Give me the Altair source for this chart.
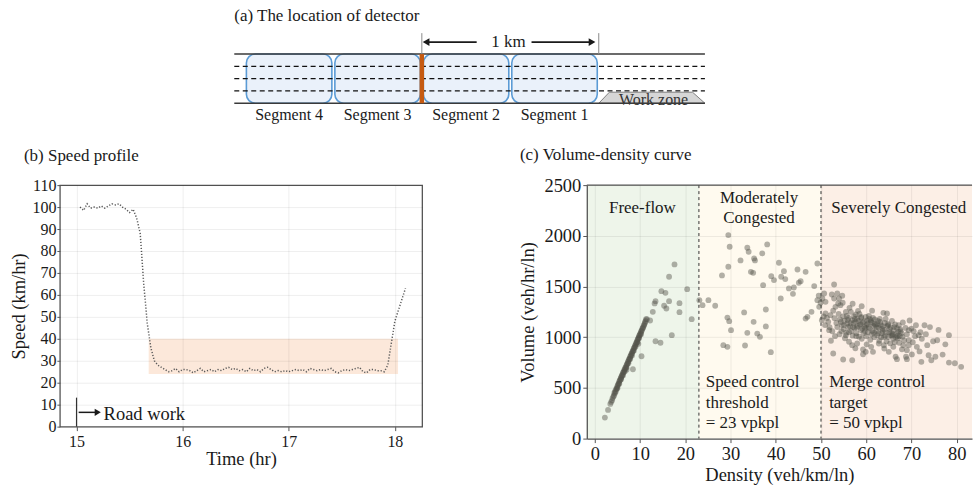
import altair as alt
import pandas as pd

SERIF = "Liberation Serif"
INK = "#1a1a1a"
FRAME = "#555555"

# ---------------- (a) detector layout: km from the detector, lanes counted from the bottom edge
seg_names = ["Segment 4", "Segment 3", "Segment 2", "Segment 1"]
seg_start_km = [-1.0, -0.5, 0.0, 0.5]
seg_end_km = [-0.5, 0.0, 0.5, 1.0]
road_from_km, road_to_km = -1.06, 1.6
lane_edges = [0, 4]
lane_marks = [1, 2, 3]
detector_km = 0.0
span_km = [0.0, 1.0]
wz_km = [1.0, 1.06, 1.53, 1.6]
wz_top = [0.0, 0.9, 0.9, 0.0]

# ---------------- (b) speed profile
time_hr = [15 + 2 * m / 60 for m in range(1, 94)]  # 2-minute detector intervals
speed_kmh = [
    100, 98.5, 101.5, 99.5, 100, 99.5, 100.5, 99.5, 100.5, 101.5, 101, 101.5, 100, 99, 97.5, 99,
    95, 88, 65, 47, 36, 30, 28, 27, 26, 25,
    25.5, 26.5, 25, 26, 26, 25.5, 24.5, 25.5, 26.5, 25, 25.5, 26, 25, 26, 25.5, 26.5, 27, 26,
    26.5, 25.5, 26, 25, 26.5, 25.5, 26, 25, 26.5, 27, 26, 25, 25.5, 25, 25.5, 25, 25.5, 26,
    25.5, 26, 25, 26.5, 26, 25.5, 26, 25.5, 26, 26.5, 25, 24.5, 25.5, 26, 25.5, 26, 26.5, 27,
    25, 24.5, 26, 26, 25.5, 25.5, 25,
    28, 38, 48, 53, 58, 63,
]
band_time = [15.68, 18.03]
band_speed = [24, 40]
roadwork_hr = 15.0

# ---------------- (c) volume-density points (density veh/km/ln, volume veh/hr/ln)
ff_density = [
    2.2, 2.9, 3.4, 3.6, 3.8, 3.9, 4.1, 4.2, 4.3, 4.4, 4.5, 4.6, 4.7, 4.8, 4.9, 5.0, 5.0, 5.1,
    5.2, 5.3, 5.4, 5.4, 5.5, 5.6, 5.7, 5.8, 5.8, 5.9, 6.0, 6.1, 6.2, 6.2, 6.3, 6.4, 6.5, 6.6,
    6.6, 6.7, 6.8, 6.9, 7.0, 7.0, 7.1, 7.2, 7.3, 7.4, 7.4, 7.5, 7.6, 7.7, 7.8, 7.8, 7.9, 8.0,
    8.1, 8.2, 8.2, 8.3, 8.4, 8.5, 8.6, 8.6, 8.7, 8.8, 8.9, 9.0, 9.0, 9.1, 9.2, 9.3, 9.4, 9.4,
    9.5, 9.6, 9.7, 9.8, 9.8, 9.9, 10.0, 10.1, 10.2, 10.2, 10.3, 10.4, 10.5, 10.6, 10.7, 10.8,
    10.9, 11.0, 11.1, 11.2, 11.3, 9.6, 7.0,
    17.6, 16.4, 14.7, 15.6, 20.4, 13.4, 13.2, 16.4, 15.3, 15.8, 18.7, 18.7, 12.8, 21.4, 11.5,
    17.0, 13.4, 14.5, 10.3, 8.4, 12.2,
]
ff_volume = [
    207, 283, 342, 362, 378, 400, 415, 425, 452, 445, 470, 462, 490, 488, 505, 520, 498, 530,
    540, 548, 565, 542, 575, 580, 596, 600, 585, 615, 625, 630, 648, 622, 655, 660, 678, 680,
    662, 695, 705, 708, 725, 700, 735, 740, 758, 760, 742, 775, 785, 790, 808, 785, 815, 825,
    838, 842, 820, 858, 865, 872, 890, 866, 895, 905, 920, 925, 905, 940, 948, 955, 972, 950,
    980, 990, 1000, 1015, 992, 1020, 1032, 1040, 1055, 1030, 1062, 1070, 1085, 1092, 1100, 1115,
    1122, 1135, 1148, 1160, 1178, 935, 680,
    1718, 1596, 1454, 1438, 1474, 1355, 1333, 1355, 1310, 1283, 1336, 1247, 1250, 1178, 1178,
    1020, 960, 945, 812, 684, 1165,
]
mc_density = [
    29.5, 29.8, 33.7, 34.0, 38.1, 37.0, 32.2, 35.2, 35.4, 29.5, 34.5, 35.0, 40.7, 28.1, 39.0,
    39.6, 41.8, 41.2, 42.1, 44.8, 46.6, 49.2, 37.2, 42.9, 43.8, 44.0, 45.5, 45.1, 48.5, 23.1,
    23.8, 25.1, 26.6, 41.1, 49.2, 49.6, 33.0, 37.8, 29.3, 29.7, 30.1, 35.1, 46.6, 47.0, 47.9,
    33.7, 35.9, 36.5, 37.8, 28.4, 29.3, 33.2, 38.9, 49.5, 49.9,
]
mc_volume = [
    2007, 1892, 1882, 1843, 1915, 1826, 1757, 1777, 1757, 1695, 1645, 1635, 1734, 1609, 1602,
    1563, 1651, 1596, 1573, 1668, 1645, 1727, 1513, 1481, 1428, 1490, 1553, 1537, 1504, 1365,
    1316, 1365, 1310, 1382, 1365, 1300, 1244, 1273, 1194, 1158, 1069, 1152, 1184, 1201, 1250,
    1043, 1036, 1004, 1106, 921, 905, 918, 852, 1410, 1340,
]
sc_density = [
    50.3, 50.7, 51.0, 52.4, 52.9, 52.9, 53.6, 54.7, 54.0, 53.8, 53.2, 54.3, 50.2, 51.0, 52.1,
    51.6, 50.6, 51.3, 52.7, 50.9, 51.9, 52.5, 51.8, 53.0, 53.4, 53.9, 54.2, 54.6, 54.9, 55.5,
    56.6, 57.7, 55.2, 55.8, 56.1, 56.4, 56.9, 57.2, 57.5, 57.9, 58.3, 58.6, 58.9, 59.2, 59.6,
    59.9, 60.6, 61.0, 60.3, 60.8, 61.3, 61.6, 61.9, 62.2, 62.5, 62.8, 63.1, 63.4, 63.7, 64.0,
    64.6, 64.3, 64.8, 65.1, 65.4, 65.8, 66.1, 66.4, 66.7, 67.0, 67.2, 67.6, 68.0, 68.4, 68.7,
    69.0, 69.4, 70.0, 70.5, 71.0, 71.6, 72.9, 72.3, 73.5, 73.8, 75.3, 76.9, 72.2, 74.4, 75.7,
    78.3, 78.3, 79.6, 81.0, 52.7, 54.9, 59.3, 59.3, 61.5, 65.0, 66.5, 66.8, 68.8, 69.0, 69.4,
    69.4, 69.0, 62.8, 63.9, 56.9, 58.0, 55.5, 56.2, 56.9, 59.9,
    55.0, 55.6, 56.0, 56.7, 57.0, 57.4, 57.8, 58.1, 58.4, 58.8, 59.0, 59.4, 59.8, 60.0, 60.4,
    60.9, 61.2, 61.8, 62.0, 62.4, 62.9, 63.3, 63.6, 64.2, 64.5, 64.9, 65.3, 65.6, 66.0, 66.3,
    66.9, 67.3, 67.8, 68.2, 57.3, 58.5, 60.2, 61.5, 63.0, 65.7, 67.5, 54.5, 55.3, 53.6, 54.1,
    53.1, 52.2, 60.1, 61.1, 57.6, 64.0, 66.0, 67.9, 70.3, 71.2, 70.8, 72.0, 74.1, 76.0, 73.2,
    74.8, 77.5, 70.1, 71.8, 68.1, 69.6, 58.2, 61.3, 63.8, 56.3, 59.0, 54.8, 57.0,
    54.4, 55.1, 55.9, 56.5, 57.1, 57.6, 58.0, 58.7, 59.1, 59.5, 60.0, 60.5, 61.0, 61.4, 61.9,
    62.3, 62.7, 63.2, 63.5, 64.1, 64.4, 64.7, 65.2, 65.5, 66.2, 66.6, 67.1, 67.4, 56.2, 57.8,
    59.7, 61.7, 63.9, 65.9, 55.7, 58.9, 60.7, 62.6, 64.9, 66.8,
]
sc_volume = [
    1382, 1431, 1349, 1421, 1520, 1382, 1431, 1409, 1382, 1333, 1300, 1316, 1168, 1234, 1217,
    1152, 1205, 1190, 1262, 1120, 1098, 1059, 1069, 1188, 1140, 1230, 1175, 1120, 1205, 1250,
    1250, 1224, 1162, 1135, 1190, 1108, 1168, 1138, 1180, 1095, 1160, 1122, 1190, 1145, 1102,
    1201, 1211, 1168, 1130, 1085, 1140, 1110, 1175, 1062, 1128, 1095, 1150, 1040, 1108, 1075,
    1234, 1180, 1130, 1050, 1098, 1015, 1070, 1125, 1035, 990, 1118, 1060, 1005, 968, 1092,
    1030, 1069, 1085, 1059, 1118, 1020, 1118, 985, 921, 822, 807, 829, 757, 773, 970,
    1020, 750, 743, 708, 839, 780, 879, 832, 856, 856, 807, 783, 807, 783, 970,
    921, 872, 938, 921, 921, 938, 1020, 955, 773, 856,
    1080, 1045, 1100, 1060, 1015, 1090, 1040, 1110, 1005, 1070, 985, 1040, 1090, 1010, 1050,
    975, 1030, 1000, 1118, 1020, 965, 1000, 1060, 1015, 960, 1002, 940, 1040, 985, 950,
    1012, 945, 1040, 920, 1205, 1230, 1165, 1190, 1180, 1160, 1080, 1060, 990, 1100, 1030,
    1010, 965, 930, 905, 890, 888, 905, 880, 950, 905, 1010, 1050, 1100, 1072, 1030,
    960, 930, 830, 860, 1145, 1165, 1260, 1262, 1240, 1290, 1305, 1340, 1330,
    1150, 1120, 1170, 1140, 1100, 1150, 1180, 1130, 1085, 1155, 1120, 1100, 1150, 1060, 1130,
    1100, 1040, 1120, 1085, 1140, 1050, 1110, 1080, 1020, 1100, 1000, 1055, 1010, 1050, 1010,
    1060, 1045, 1002, 1030, 1210, 1200, 1180, 1160, 1120, 1090,
]
regime_names = ["Free-flow", "Moderately Congested", "Severely Congested"]
regime_from = [-1.8, 23, 50]
regime_to = [23, 50, 83.4]
regime_fill = ["#eef5ea", "#fffaef", "#fcefe6"]
thresholds = [23, 50]
zone_text = ["Free-flow", "Moderately", "Congested", "Severely Congested"]
zone_x = [10.5, 36.3, 36.3, 67.2]
zone_y = [2270, 2376, 2179, 2270]
note_text = ["Speed control", "threshold", "= 23 vpkpl", "Merge control", "target", "= 50 vpkpl"]
note_x = [24.5, 24.5, 24.5, 51.8, 51.8, 51.8]
note_y = [560, 355, 158, 560, 355, 158]

# ======================= panel (a) =======================
a_x = alt.Scale(domain=[-2.0457, 3.1095], nice=False, zero=False)
a_y = alt.Scale(domain=[-1.865, 8.27], nice=False, zero=False)


def AX(f):
    return alt.X(f, type="quantitative", scale=a_x, axis=None)


def AY(f):
    return alt.Y(f, type="quantitative", scale=a_y, axis=None)


seg_df = pd.DataFrame({"name": seg_names, "x0": seg_start_km, "x1": seg_end_km})
seg_df["y0"] = 0
seg_df["y1"] = 4
seg_df["xc"] = (seg_df["x0"] + seg_df["x1"]) / 2
seg_df["yl"] = -0.92

segments = alt.Chart(seg_df).mark_rect(
    fill="#eaf1fa", stroke="#5b9bd5", strokeWidth=1.6, cornerRadius=9, xOffset=1.5, x2Offset=-1.5
).encode(x=AX("x0"), x2="x1:Q", y=AY("y0"), y2="y1:Q")

seg_labels = alt.Chart(seg_df).mark_text(
    font=SERIF, fontSize=16, color=INK, baseline="middle"
).encode(x=AX("xc"), y=AY("yl"), text="name:N")

lanes_df = pd.DataFrame({"y": lane_marks, "x0": road_from_km, "x1": road_to_km})
lanes = alt.Chart(lanes_df).mark_rule(color="#111", strokeWidth=1.3, strokeDash=[5, 3.5]).encode(
    x=AX("x0"), x2="x1:Q", y=AY("y")
)

wz_df = pd.DataFrame({"x": wz_km, "top": wz_top})
workzone = alt.Chart(wz_df).mark_area(fill="#d6d6d6", stroke="#7f7f7f", strokeWidth=1).encode(
    x=AX("x"), y=AY("top"), y2=alt.datum(0)
)
wz_label = alt.Chart(pd.DataFrame({"x": [1.31], "y": [-0.12], "t": ["Work zone"]})).mark_text(
    font=SERIF, fontSize=16, color="#333", baseline="alphabetic"
).encode(x=AX("x"), y=AY("y"), text="t:N")

edges_df = pd.DataFrame({"y": lane_edges, "x0": road_from_km, "x1": road_to_km})
edges = alt.Chart(edges_df).mark_rule(color="#3a3a3a", strokeWidth=1.5).encode(
    x=AX("x0"), x2="x1:Q", y=AY("y")
)

detector = alt.Chart(pd.DataFrame({"x": [detector_km], "y0": [0], "y1": [4]})).mark_rule(
    color="#c55a11", strokeWidth=4.5
).encode(x=AX("x"), y=AY("y0"), y2="y1:Q")

dim_ticks = alt.Chart(pd.DataFrame({"x": span_km, "y0": [4, 4], "y1": [5.7, 5.7]})).mark_rule(
    color="#8a8a8a", strokeWidth=1
).encode(x=AX("x"), y=AY("y0"), y2="y1:Q")

arrow_df = pd.DataFrame({"x0": [0.03, 0.62], "x1": [0.31, 0.97], "y": [4.97, 4.97]})
dim_arrows = alt.Chart(arrow_df).mark_rule(color=INK, strokeWidth=1.6).encode(
    x=AX("x0"), x2="x1:Q", y=AY("y")
)
head_l = alt.Chart(pd.DataFrame({"x": [0.024], "y": [4.97]})).mark_point(
    shape="triangle-left", filled=True, size=60, color=INK, opacity=1
).encode(x=AX("x"), y=AY("y"))
head_r = alt.Chart(pd.DataFrame({"x": [0.962], "y": [4.97]})).mark_point(
    shape="triangle-right", filled=True, size=60, color=INK, opacity=1
).encode(x=AX("x"), y=AY("y"))
dim_text = alt.Chart(pd.DataFrame({"x": [0.49], "y": [4.97], "t": ["1 km"]})).mark_text(
    font=SERIF, fontSize=17, color=INK, baseline="middle"
).encode(x=AX("x"), y=AY("y"), text="t:N")

a_title = alt.Chart(pd.DataFrame({"x": [road_from_km], "y": [7.06], "t": ["(a) The location of detector"]})).mark_text(
    font=SERIF, fontSize=17, color=INK, align="left", baseline="middle"
).encode(x=AX("x"), y=AY("y"), text="t:N")

panel_a = alt.layer(
    segments, lanes, workzone, wz_label, edges, detector, dim_ticks, dim_arrows, head_l, head_r,
    dim_text, seg_labels, a_title
).properties(width=914, height=125)

# ======================= panel (b) =======================
axis_style = dict(
    labelFont=SERIF, titleFont=SERIF, labelColor=INK, titleColor=INK, titleFontWeight="normal",
    gridColor="#000", gridOpacity=0.07, tickColor=FRAME, zindex=1,
)
b_xaxis = alt.Axis(values=[15, 16, 17, 18], format="d", title="Time (hr)", labelFontSize=16,
                   titleFontSize=18.5, tickSize=4, labelPadding=3, titlePadding=0, domain=False,
                   **axis_style)
b_yaxis = alt.Axis(values=list(range(0, 111, 10)), format="d", title="Speed (km/hr)", labelFontSize=16,
                   titleFontSize=18.5, tickSize=3, labelPadding=1, titlePadding=3, domain=False,
                   **axis_style)
b_x = alt.Scale(domain=[14.843, 18.257], nice=False, zero=False)
b_y = alt.Scale(domain=[0, 110], nice=False)


def BX(f):
    return alt.X(f, type="quantitative", scale=b_x, axis=b_xaxis)


def BY(f):
    return alt.Y(f, type="quantitative", scale=b_y, axis=b_yaxis)


band = alt.Chart(pd.DataFrame({"t0": [band_time[0]], "t1": [band_time[1]], "s0": [band_speed[0]], "s1": [band_speed[1]]})).mark_rect(
    color="#fce8da"
).encode(x=BX("t0"), x2="t1:Q", y=BY("s0"), y2="s1:Q")

speed_line = alt.Chart(pd.DataFrame({"t": time_hr, "v": speed_kmh})).mark_line(
    color="#5a5a5a", strokeWidth=1.5, strokeDash=[1.2, 1.8]
).encode(x=BX("t"), y=BY("v"))

rw_df = pd.DataFrame({"t": [roadwork_hr], "y0": [0], "y1": [13.2]})
rw_rule = alt.Chart(rw_df).mark_rule(color="#333", strokeWidth=1.2).encode(x=BX("t"), y=BY("y0"), y2="y1:Q")
rw_arrow = alt.Chart(pd.DataFrame({"t0": [15.02], "t1": [15.19], "y": [6.5]})).mark_rule(
    color=INK, strokeWidth=1.5
).encode(x=BX("t0"), x2="t1:Q", y=BY("y"))
rw_head = alt.Chart(pd.DataFrame({"t": [15.2], "y": [6.5]})).mark_point(
    shape="triangle-right", filled=True, size=50, color=INK, opacity=1
).encode(x=BX("t"), y=BY("y"))
rw_text = alt.Chart(pd.DataFrame({"t": [15.255], "y": [5.6], "s": ["Road work"]})).mark_text(
    font=SERIF, fontSize=18.5, color=INK, align="left", baseline="middle"
).encode(x=BX("t"), y=BY("y"), text="s:N")

panel_b = alt.layer(band, speed_line, rw_rule, rw_arrow, rw_head, rw_text).properties(
    width=363, height=242,
    view=alt.ViewBackground(stroke=FRAME, strokeWidth=1.3),
    title=alt.TitleParams("(b) Speed profile", anchor="start", font=SERIF, fontSize=17,
                          fontWeight="normal", color=INK, offset=12, dx=14),
)

# ======================= panel (c) =======================
c_xaxis = alt.Axis(values=list(range(0, 81, 10)), format="d", title="Density (veh/km/ln)", labelFontSize=18.5,
                   titleFontSize=18.5, tickSize=4, labelPadding=2, titlePadding=2,
                   domainColor=FRAME, domainWidth=1.3, **axis_style)
c_yaxis = alt.Axis(values=list(range(0, 2501, 500)), format="d", title="Volume (veh/hr/ln)", labelFontSize=18.5,
                   titleFontSize=18.5, tickSize=4, labelPadding=2, titlePadding=6,
                   domainColor=FRAME, domainWidth=1.3, **axis_style)
c_x = alt.Scale(domain=[-1.8, 83.4], nice=False, zero=False)
c_y = alt.Scale(domain=[0, 2500], nice=False)


def CX(f):
    return alt.X(f, type="quantitative", scale=c_x, axis=c_xaxis)


def CY(f):
    return alt.Y(f, type="quantitative", scale=c_y, axis=c_yaxis)


reg_df = pd.DataFrame({"regime": regime_names, "d0": regime_from, "d1": regime_to, "fill": regime_fill})
reg_df["v0"] = 0
reg_df["v1"] = 2500
regimes = alt.Chart(reg_df).mark_rect().encode(
    x=CX("d0"), x2="d1:Q", y=CY("v0"), y2="v1:Q",
    color=alt.Color("fill:N", scale=None),
)
thr = alt.Chart(pd.DataFrame({"d": thresholds})).mark_rule(
    color="#333", strokeWidth=1, strokeDash=[3, 3]
).encode(x=CX("d"))

pts_df = pd.concat([
    pd.DataFrame({"d": ff_density, "v": ff_volume}),
    pd.DataFrame({"d": mc_density, "v": mc_volume}),
    pd.DataFrame({"d": sc_density, "v": sc_volume}),
])
points = alt.Chart(pts_df).mark_circle(size=34, color="#55554c", opacity=0.45).encode(
    x=CX("d"), y=CY("v")
)
top_edge = alt.Chart(pd.DataFrame({"v": [2500]})).mark_rule(color=FRAME, strokeWidth=1.3).encode(y=CY("v"))

zones = alt.Chart(pd.DataFrame({"d": zone_x, "v": zone_y, "t": zone_text})).mark_text(
    font=SERIF, fontSize=17, color=INK, baseline="middle"
).encode(x=CX("d"), y=CY("v"), text="t:N")
notes = alt.Chart(pd.DataFrame({"d": note_x, "v": note_y, "t": note_text})).mark_text(
    font=SERIF, fontSize=17, color=INK, align="left", baseline="middle"
).encode(x=CX("d"), y=CY("v"), text="t:N")

panel_c = alt.layer(regimes, thr, points, top_edge, zones, notes).properties(
    width=386, height=254,
    title=alt.TitleParams("(c) Volume-density curve", anchor="start", font=SERIF, fontSize=17,
                          fontWeight="normal", color=INK, offset=12, dx=1),
)

chart = alt.vconcat(
    panel_a,
    alt.hconcat(panel_b, panel_c, spacing=95),
    spacing=18,
).properties(
    padding={"left": 9, "top": 0, "right": 0, "bottom": 0},
    background="white",
).configure(font=SERIF, view=alt.ViewConfig(stroke="transparent"))

chart.save("out.html", embed_options={"renderer": "svg", "actions": False})
